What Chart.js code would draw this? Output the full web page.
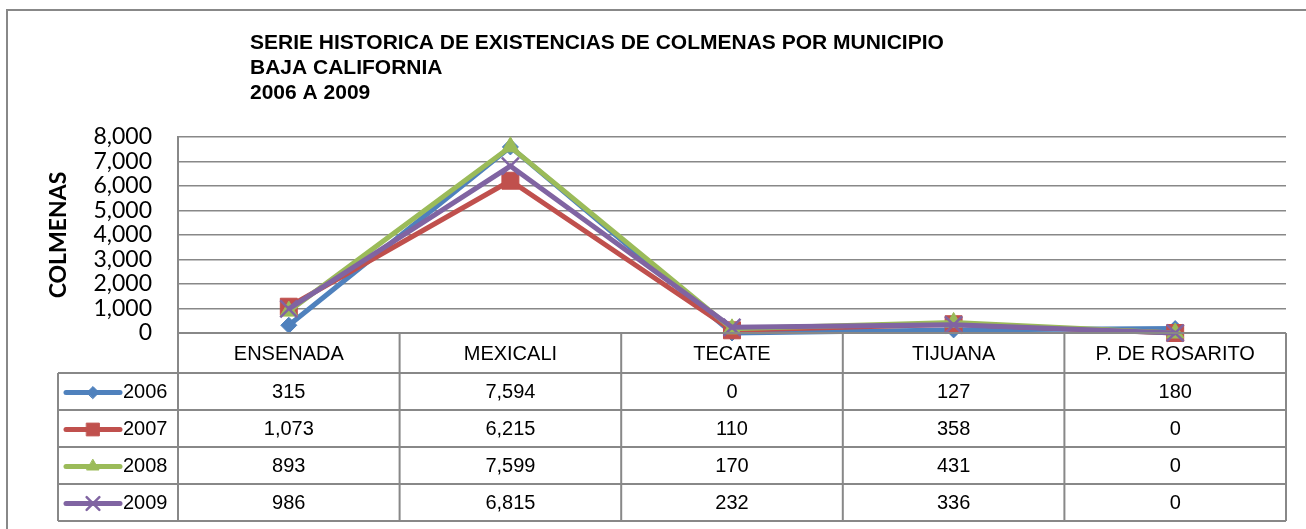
<!DOCTYPE html>
<html>
<head>
<meta charset="utf-8">
<script src="https://cdn.jsdelivr.net/npm/chart.js@4.4.0/dist/chart.umd.min.js"></script>
<style>
  html, body { margin: 0; padding: 0; background: #fff; }
  #wrap { position: relative; width: 1306px; height: 529px; }
</style>
</head>
<body>
<div id="wrap"><canvas id="colmenasChart"></canvas></div>
<script>
// chart data
const municipios = ['ENSENADA', 'MEXICALI', 'TECATE', 'TIJUANA', 'P. DE ROSARITO'];
const anios = ['2006', '2007', '2008', '2009'];
const colmenas2006 = [315, 7594, 0, 127, 180];
const colmenas2007 = [1073, 6215, 110, 358, 0];
const colmenas2008 = [893, 7599, 170, 431, 0];
const colmenas2009 = [986, 6815, 232, 336, 0];
const yMin = 0, yMax = 8000, yStep = 1000;

const titleLines = [
    'SERIE HISTORICA DE EXISTENCIAS DE COLMENAS POR MUNICIPIO',
    'BAJA CALIFORNIA',
    '2006 A 2009'
];
const yAxisTitle = 'COLMENAS';

// series look (Excel 2007 palette)
const colors = ['#4F81BD', '#C0504D', '#9BBB59', '#8064A2'];
const markers = ['rectRot', 'rect', 'triangle', 'crossRot'];
const markerSize = [8, 12, 10, 12];
const legendMarkerSize = [6, 9, 7, 9];
const gridColor = '#888888';

const series = [colmenas2006, colmenas2007, colmenas2008, colmenas2009];

// frame, title and rotated axis title
const decorPlugin = {
    id: 'decor',
    beforeDraw(chart) {
        const ctx = chart.ctx;
        ctx.save();
        ctx.fillStyle = '#fff';
        ctx.fillRect(0, 0, chart.width, chart.height);
        ctx.strokeStyle = gridColor;
        ctx.lineWidth = 2;
        ctx.beginPath();
        ctx.moveTo(7, chart.height);
        ctx.lineTo(7, 10);
        ctx.lineTo(chart.width, 10);
        ctx.stroke();

        ctx.fillStyle = '#000';
        ctx.font = 'bold 21px "Liberation Sans", Arial, sans-serif';
        ctx.textAlign = 'left';
        ctx.textBaseline = 'alphabetic';
        titleLines.forEach((t, i) => ctx.fillText(t, 250, 49 + i * 25));

        ctx.translate(59, 235);
        ctx.rotate(-Math.PI / 2);
        ctx.font = 'bold 23px Lato, "Open Sans", sans-serif';
        ctx.textAlign = 'center';
        ctx.textBaseline = 'middle';
        ctx.fillText(yAxisTitle, 0, 0);
        ctx.restore();
    }
};

// data table under the plot, columns follow the x scale
const tablePlugin = {
    id: 'dataTable',
    afterDatasetsDraw(chart) {
        const { ctx, chartArea: a } = chart;
        const xs = chart.scales.x;
        const colW = (a.right - a.left) / municipios.length;
        const headH = 40, rowH = 37, legendLeft = 58;
        const top = a.bottom;
        const rowsTop = top + headH;
        const bottom = rowsTop + rowH * anios.length;

        ctx.save();
        ctx.strokeStyle = gridColor;
        ctx.lineWidth = 2;
        ctx.beginPath();
        ctx.moveTo(a.left, top);
        ctx.lineTo(a.right, top);
        for (let r = 0; r <= anios.length; r++) {
            const y = rowsTop + r * rowH;
            ctx.moveTo(legendLeft, y);
            ctx.lineTo(a.right, y);
        }
        ctx.moveTo(legendLeft, rowsTop);
        ctx.lineTo(legendLeft, bottom);
        for (let c = 0; c <= municipios.length; c++) {
            const xx = a.left + c * colW;
            ctx.moveTo(xx, top);
            ctx.lineTo(xx, bottom);
        }
        ctx.stroke();

        ctx.fillStyle = '#000';
        ctx.font = '20px "Liberation Sans", Arial, sans-serif';
        ctx.textAlign = 'center';
        ctx.textBaseline = 'middle';
        municipios.forEach((m, i) => ctx.fillText(m, xs.getPixelForValue(i), top + headH / 2 + 1));

        chart.data.datasets.forEach((ds, r) => {
            const yc = rowsTop + r * rowH + rowH / 2 + 1;
            ctx.fillStyle = '#000';
            ctx.textAlign = 'center';
            ds.data.forEach((v, i) => ctx.fillText(v.toLocaleString('en-US'), xs.getPixelForValue(i), yc));

            // legend key
            ctx.strokeStyle = ds.borderColor;
            ctx.fillStyle = ds.borderColor;
            ctx.lineWidth = 5;
            ctx.lineCap = 'round';
            ctx.beginPath();
            ctx.moveTo(66, yc);
            ctx.lineTo(120, yc);
            ctx.stroke();
            if (Chart.helpers && Chart.helpers.drawPoint) {
                ctx.lineWidth = ds.pointBorderWidth;
                Chart.helpers.drawPoint(ctx, {
                    pointStyle: ds.pointStyle,
                    radius: legendMarkerSize[r],
                    borderWidth: ds.pointBorderWidth,
                    rotation: 0
                }, 93, yc);
            }
            ctx.fillStyle = '#000';
            ctx.textAlign = 'left';
            ctx.fillText(ds.label, 123, yc);
        });
        ctx.restore();
    }
};

const datasets = anios.map((anio, i) => ({
    label: anio,
    data: series[i],
    borderColor: colors[i],
    backgroundColor: colors[i],
    pointBackgroundColor: colors[i],
    pointBorderColor: colors[i],
    pointStyle: markers[i],
    pointRadius: markerSize[i],
    pointBorderWidth: markers[i] === 'crossRot' ? 2.5 : 1,
    borderWidth: 5,
    tension: 0,
    fill: false,
    clip: false,
    order: anios.length - 1 - i
}));

new Chart(document.getElementById('colmenasChart').getContext('2d'), {
    type: 'line',
    data: { labels: municipios, datasets: datasets },
    options: {
        responsive: true,
        maintainAspectRatio: false,
        animation: false,
        devicePixelRatio: 1,
        layout: { padding: { left: 0, top: 137, right: 20, bottom: 196 } },
        plugins: { legend: { display: false }, tooltip: { enabled: false }, title: { display: false } },
        scales: {
            x: { type: 'category', display: false, offset: true },
            y: {
                min: yMin,
                max: yMax,
                afterFit: (s) => { s.width = 178; },
                ticks: {
                    stepSize: yStep,
                    autoSkip: false,
                    padding: 26,
                    color: '#000',
                    font: { family: 'Lato, "Open Sans", sans-serif', size: 23 }
                },
                grid: { color: gridColor, lineWidth: 1.5, drawTicks: false },
                border: { display: true, color: gridColor, width: 2 }
            }
        }
    },
    plugins: [decorPlugin, tablePlugin]
});
</script>
</body>
</html>
